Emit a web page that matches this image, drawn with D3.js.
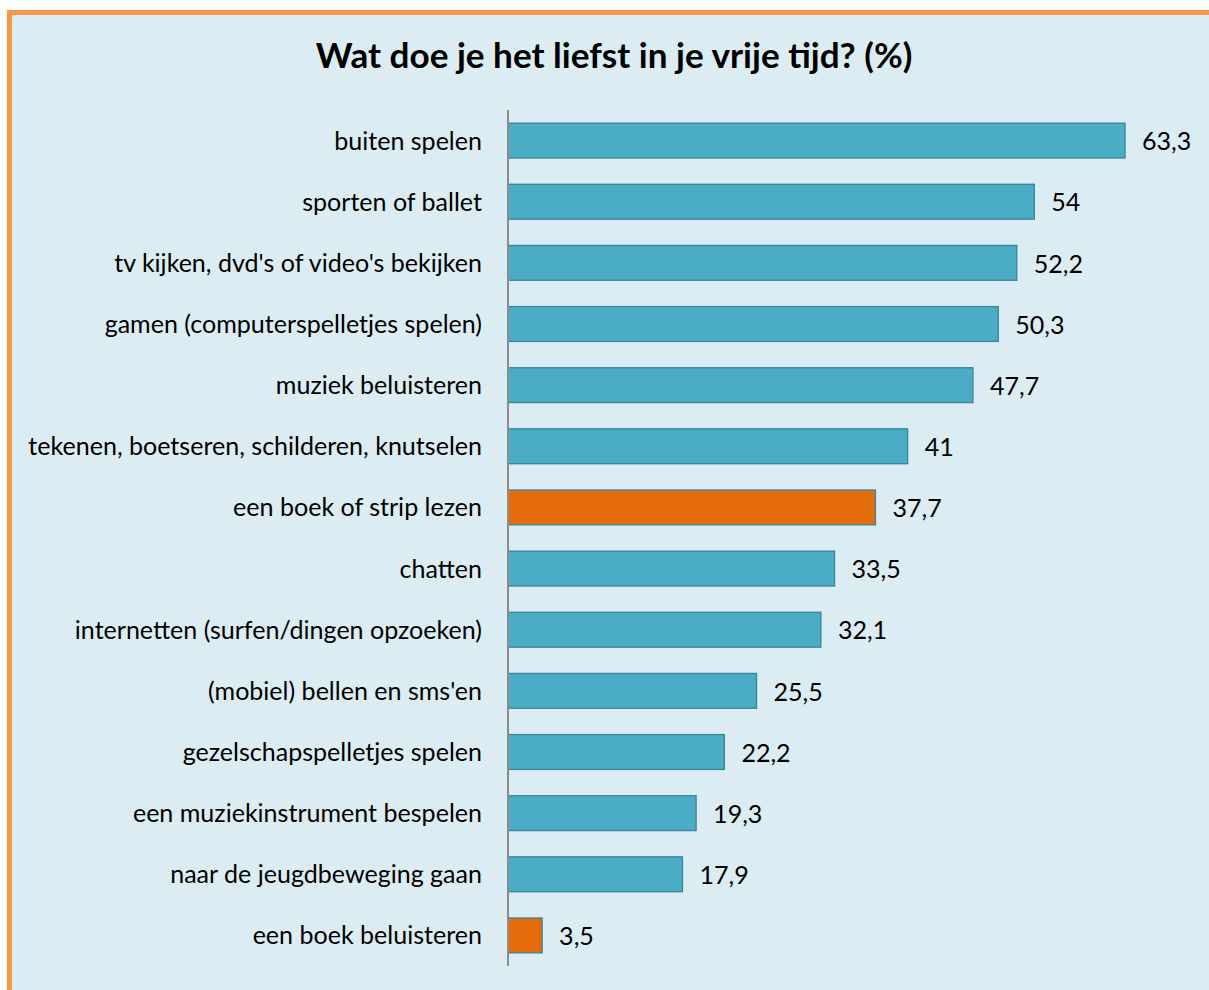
<!DOCTYPE html>
<html>
<head>
<meta charset="utf-8">
<script src="https://cdn.jsdelivr.net/npm/d3@7"></script>
<style>
  body { margin: 0; background: #fff; }
  svg { display: block; font-family: Lato, "Open Sans", sans-serif; }
</style>
</head>
<body>
<svg id="chart" width="1209" height="990"></svg>
<script>
// data, top to bottom
const categories = [
  "buiten spelen",
  "sporten of ballet",
  "tv kijken, dvd's of video's bekijken",
  "gamen (computerspelletjes spelen)",
  "muziek beluisteren",
  "tekenen, boetseren, schilderen, knutselen",
  "een boek of strip lezen",
  "chatten",
  "internetten (surfen/dingen opzoeken)",
  "(mobiel) bellen en sms'en",
  "gezelschapspelletjes spelen",
  "een muziekinstrument bespelen",
  "naar de jeugdbeweging gaan",
  "een boek beluisteren"
];
const values = [63.3, 54, 52.2, 50.3, 47.7, 41, 37.7, 33.5, 32.1, 25.5, 22.2, 19.3, 17.9, 3.5];
const highlighted = ["een boek of strip lezen", "een boek beluisteren"];
const title = "Wat doe je het liefst in je vrije tijd? (%)";

const W = 1209, H = 990;
const margin = {top: 110, left: 508, bottom: 24};

const svg = d3.select('#chart');

// panel with orange frame (cut off on right and bottom)
svg.append('rect')
    .attr('x', 9.5).attr('y', 12.5)
    .attr('width', W + 20).attr('height', H + 20)
    .attr('fill', '#DBEDF3')
    .attr('stroke', '#F79646')
    .attr('stroke-width', 5);

let titleEl = svg.append('text')
    .attr('x', 614).attr('y', 68)
    .attr('text-anchor', 'middle')
    .attr('font-weight', 'bold')
    .attr('font-size', 31)
    .attr('fill', '#000')
    .text(title);
// stretch title to the original width (~597px)
titleEl.attr('font-size', 31 * 597 / titleEl.node().getComputedTextLength());

let xScale = d3.scaleLinear()
    .domain([0, 63.3])
    .range([margin.left, 1125]);

let yScale = d3.scaleBand()
    .domain(categories)
    .range([margin.top, H - margin.bottom])
    .paddingInner(0.43)
    .paddingOuter(0.215);

let g = svg.append('g');

g.selectAll('rect.bar')
    .data(values)
    .enter()
    .append('rect')
    .attr('class', 'bar')
    .attr('x', xScale(0))
    .attr('y', (d, i) => yScale(categories[i]))
    .attr('width', d => xScale(d) - xScale(0))
    .attr('height', yScale.bandwidth())
    .attr('fill', (d, i) => highlighted.includes(categories[i]) ? '#E46C0A' : '#4BACC6')
    .attr('stroke', '#3A8499')
    .attr('stroke-width', 1.3);

// value labels, comma decimals
let fmt = d => String(d).replace('.', ',');
g.selectAll('text.val')
    .data(values)
    .enter()
    .append('text')
    .attr('class', 'val')
    .attr('x', d => xScale(d) + 17)
    .attr('y', (d, i) => yScale(categories[i]) + yScale.bandwidth() / 2 + 1)
    .attr('dy', '0.35em')
    .attr('font-size', 20)
    .attr('fill', '#000')
    .text(fmt);

// category axis
let axis = svg.append('g')
    .attr('transform', 'translate(' + margin.left + ',0)')
    .call(d3.axisLeft(yScale).tickSize(0).tickPadding(26));

axis.select('.domain')
    .attr('stroke', '#8C8C8C')
    .attr('stroke-width', 2)
    .attr('d', 'M0,' + margin.top + 'V' + (H - margin.bottom));

let labels = axis.selectAll('.tick text')
    .attr('font-size', 21)
    .attr('font-family', 'Lato, "Open Sans", sans-serif')
    .attr('fill', '#000')
    .attr('y', 1);

// fit longest label to ~454px like the original
let widest = d3.max(labels.nodes(), n => n.getComputedTextLength());
let fs = 21 * 454 / widest;
labels.attr('font-size', fs);
svg.selectAll('text.val').attr('font-size', fs);
</script>
</body>
</html>
